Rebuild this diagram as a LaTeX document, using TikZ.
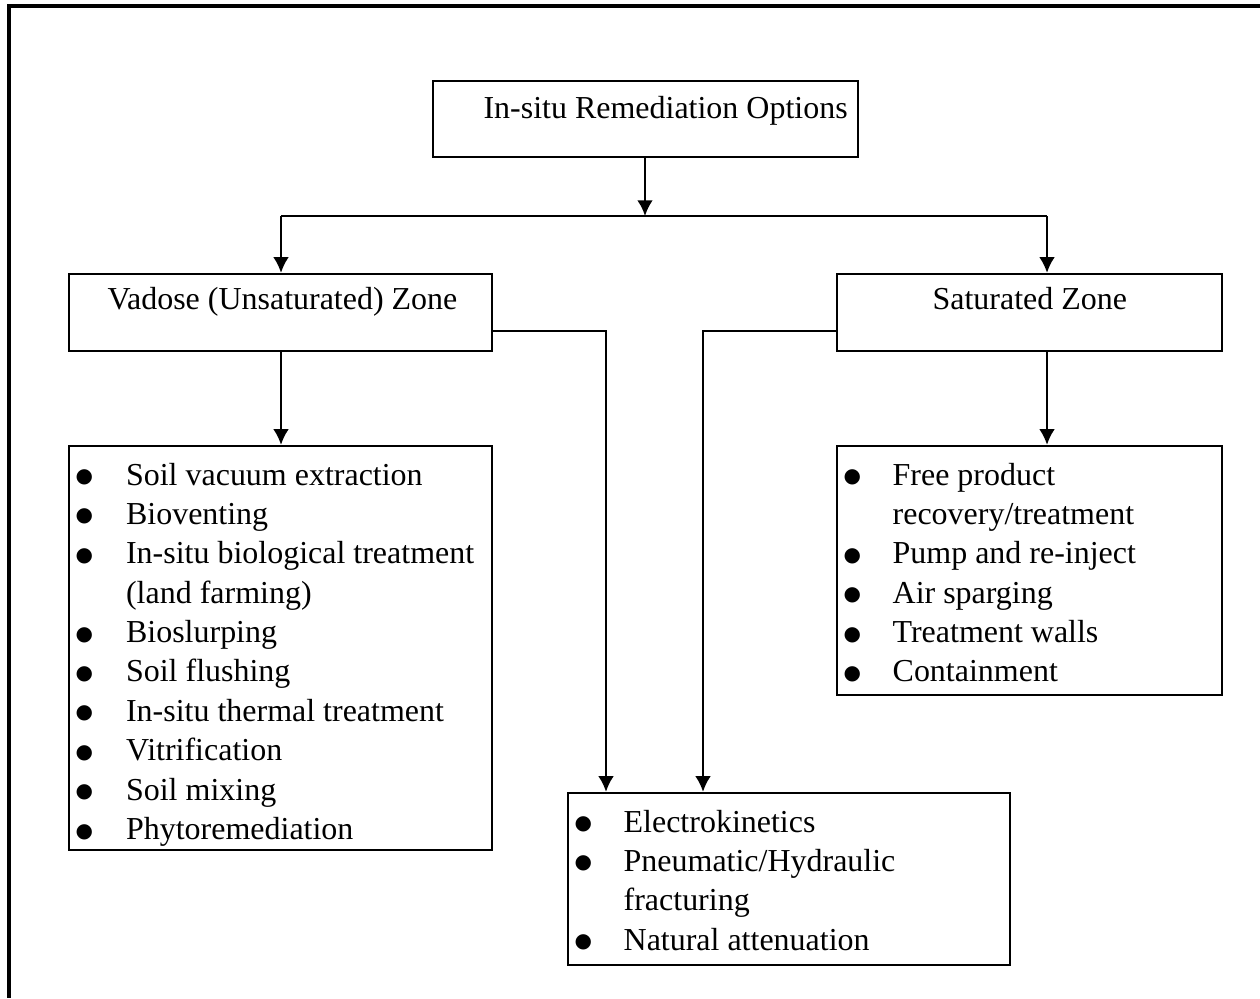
\documentclass[tikz,border=0pt]{standalone}
\usepackage{fontspec}
\setmainfont{Liberation Serif}
\newfontfamily\dotfont{DejaVu Sans}
\usetikzlibrary{arrows.meta,fit}

\newcommand{\itemdot}{\hspace{2.1pt}\raisebox{0.9pt}{\dotfont\fontsize{7pt}{7pt}\selectfont ●}}

\tikzset{
  box/.style={draw, line width=0.8pt, inner sep=0pt},
  txt/.style={inner sep=0pt, font=\fontsize{11.2pt}{13.8pt}\selectfont},
  arr/.style={line width=0.8pt, -{Latex[length=5.5pt,width=5.5pt]}},
  wire/.style={line width=0.8pt}
}

\begin{document}
\begin{tikzpicture}[x=0.3503pt, y=-0.3503pt]
    \useasboundingbox (0,0) rectangle (1260,998);
    \draw[line width=1.3pt] (1260,6) -- (9,6) -- (9,998);

    \node[box, fit={(433,81) (858,157)}] (topBox) {};
    \node[txt, anchor=base west] (topText) at (483,118) {In-situ Remediation Options};

    \node[box, fit={(69,274) (492,351)}] (vadoseBox) {};
    \node[txt, anchor=base west] (vadoseText) at (107,309) {Vadose (Unsaturated) Zone};

    \node[box, fit={(837,274) (1222,351)}] (satBox) {};
    \node[txt, anchor=base west] (satText) at (932,309) {Saturated Zone};

    \node[box, fit={(69,446) (492,850)}] (vadoseList) {};
    \node[txt, anchor=base west] (vadoseItems) at (69,485) {\begin{tabular}[t]{@{}p{19.8pt}@{}l@{}}
        \itemdot & Soil vacuum extraction\\
        \itemdot & Bioventing\\
        \itemdot & In-situ biological treatment\\
                 & (land farming)\\
        \itemdot & Bioslurping\\
        \itemdot & Soil flushing\\
        \itemdot & In-situ thermal treatment\\
        \itemdot & Vitrification\\
        \itemdot & Soil mixing\\
        \itemdot & Phytoremediation
    \end{tabular}};

    \node[box, fit={(837,446) (1222,695)}] (satList) {};
    \node[txt, anchor=base west] (satItems) at (837,485) {\begin{tabular}[t]{@{}p{19.3pt}@{}l@{}}
        \itemdot & Free product\\
                 & recovery/treatment\\
        \itemdot & Pump and re-inject\\
        \itemdot & Air sparging\\
        \itemdot & Treatment walls\\
        \itemdot & Containment
    \end{tabular}};

    \node[box, fit={(568,793) (1010,965)}] (bothList) {};
    \node[txt, anchor=base west] (bothItems) at (568,832) {\begin{tabular}[t]{@{}p{19.3pt}@{}l@{}}
        \itemdot & Electrokinetics\\
        \itemdot & Pneumatic/Hydraulic\\
                 & fracturing\\
        \itemdot & Natural attenuation
    \end{tabular}};

    \coordinate (bus) at (645,216);
    \coordinate (busL) at (281,216);
    \coordinate (busR) at (1047,216);
    \coordinate (elbowL) at (606,331);
    \coordinate (elbowR) at (703,331);

    \draw[arr] (topBox.south -| bus) -- (bus);
    \draw[wire] (busL) -- (busR);
    \draw[arr] (busL) -- (busL |- vadoseBox.north);
    \draw[arr] (busR) -- (busR |- satBox.north);
    \draw[arr] (busL |- vadoseBox.south) -- (busL |- vadoseList.north);
    \draw[arr] (busR |- satBox.south) -- (busR |- satList.north);
    \draw[arr] (vadoseBox.east |- elbowL) -- (elbowL) -- (elbowL |- bothList.north);
    \draw[arr] (satBox.west |- elbowR) -- (elbowR) -- (elbowR |- bothList.north);
\end{tikzpicture}
\end{document}
